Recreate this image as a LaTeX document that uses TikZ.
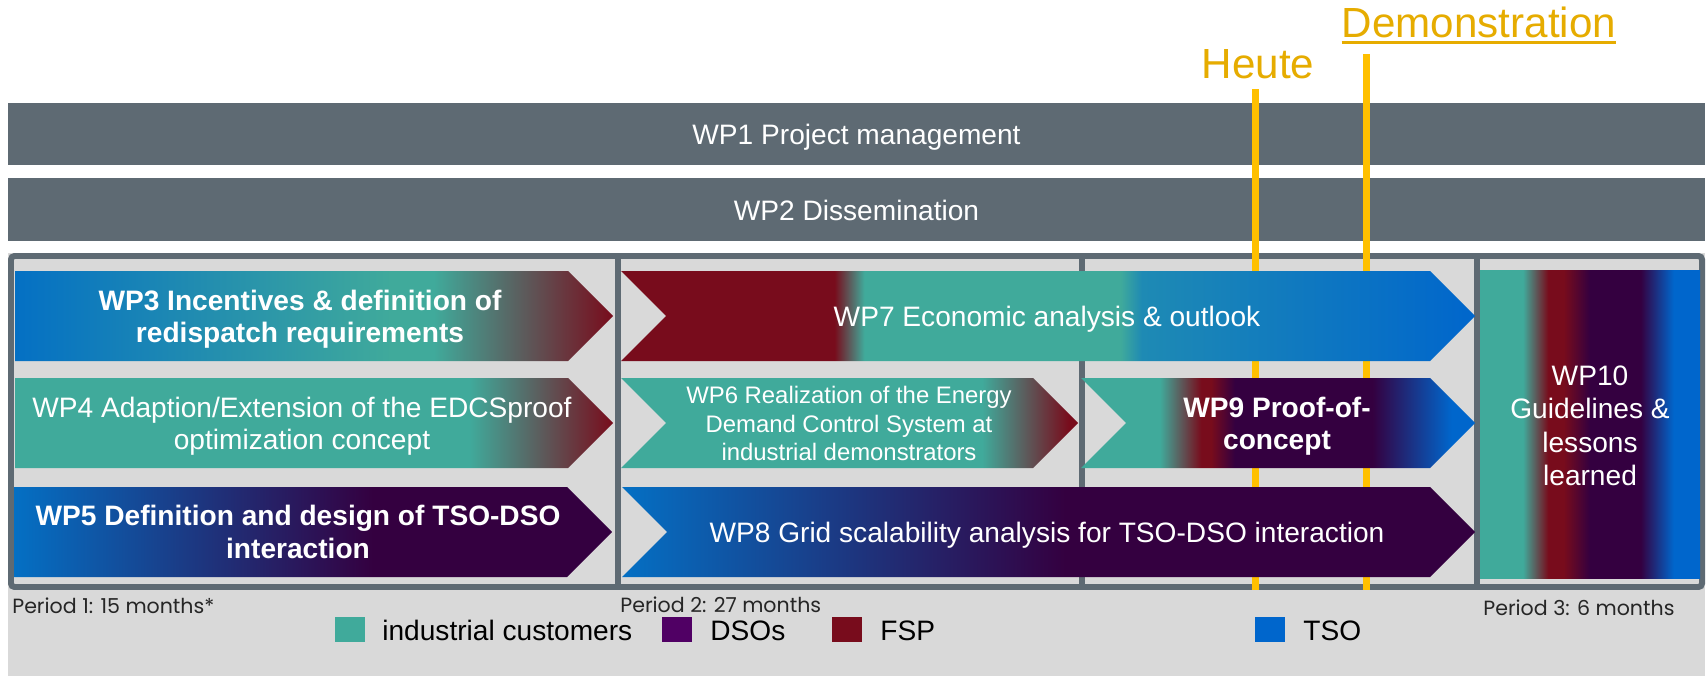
\documentclass[tikz,border=0pt]{standalone}
\usepackage{fontspec}
\setmainfont{Liberation Sans}
\newfontfamily\periodfont{Poppins}
\usepackage{xcolor}
\usepackage{tikz}
\definecolor{barslate}{RGB}{94,106,115}
\definecolor{panelgrey}{RGB}{217,217,217}
\definecolor{markergold}{RGB}{255,192,0}
\definecolor{goldtext}{RGB}{230,172,0}
\definecolor{indteal}{RGB}{64,170,155}
\definecolor{dsopurple}{RGB}{80,0,100}
\definecolor{darkpurple}{RGB}{52,0,64}
\definecolor{fspred}{RGB}{120,12,28}
\definecolor{tsoblue}{RGB}{0,102,204}
\definecolor{wpblue}{RGB}{4,112,196}
\definecolor{wpsteel}{RGB}{30,138,180}
\definecolor{periodgrey}{RGB}{38,38,38}

% colour runs of the work package arrows (25bp = left end, 75bp = right end)
\pgfdeclarehorizontalshading{wpthreeshade}{100bp}{color(0bp)=(wpblue); color(25bp)=(wpblue); color(56.5bp)=(indteal); color(60bp)=(indteal); color(75bp)=(fspred); color(100bp)=(fspred)}
\pgfdeclarehorizontalshading{wpfourshade}{100bp}{color(0bp)=(indteal); color(63bp)=(indteal); color(75bp)=(fspred); color(100bp)=(fspred)}
\pgfdeclarehorizontalshading{wpfiveshade}{100bp}{color(0bp)=(wpblue); color(25bp)=(wpblue); color(55bp)=(darkpurple); color(100bp)=(darkpurple)}
\pgfdeclarehorizontalshading{wpsixshade}{100bp}{color(0bp)=(indteal); color(64.5bp)=(indteal); color(74bp)=(fspred); color(100bp)=(fspred)}
\pgfdeclarehorizontalshading{wpsevenshade}{100bp}{color(0bp)=(fspred); color(37.5bp)=(fspred); color(39.25bp)=(indteal); color(54.25bp)=(indteal); color(55.5bp)=(wpsteel); color(75bp)=(tsoblue); color(100bp)=(tsoblue)}
\pgfdeclarehorizontalshading{wpeightshade}{100bp}{color(0bp)=(wpblue); color(25bp)=(wpblue); color(51bp)=(darkpurple); color(100bp)=(darkpurple)}
\pgfdeclarehorizontalshading{wpnineshade}{100bp}{color(0bp)=(indteal); color(35bp)=(indteal); color(40.25bp)=(fspred); color(41.5bp)=(fspred); color(44.5bp)=(darkpurple); color(62bp)=(darkpurple); color(72bp)=(tsoblue); color(100bp)=(tsoblue)}
\pgfdeclarehorizontalshading{wptenshade}{100bp}{color(0bp)=(indteal); color(34.75bp)=(indteal); color(40.5bp)=(fspred); color(44bp)=(fspred); color(50bp)=(darkpurple); color(61.5bp)=(darkpurple); color(69bp)=(tsoblue); color(100bp)=(tsoblue)}

\begin{document}
\begin{tikzpicture}[x=0.02cm, y=-0.02cm,
    wpbar/.style={rectangle, fill=barslate, text=white, inner sep=0pt, minimum width=33.94cm, font=\fontsize{16}{18.4}\selectfont, text height=12.5pt, text depth=0pt},
    panelframe/.style={draw=barslate, line width=3.4pt},
    daymark/.style={draw=markergold, line width=4pt},
    wptext/.style={text=white, align=center, inner sep=0pt, font=\fontsize{16}{18.4}\selectfont},
    daytext/.style={text=goldtext, inner sep=0pt, font=\fontsize{24}{28}\selectfont},
    legbox/.style={rectangle, inner sep=0pt, minimum width=0.6cm, minimum height=0.5cm},
    legtext/.style={inner sep=0pt, anchor=base west, font=\fontsize{16}{18.4}\selectfont},
    periodtext/.style={inner sep=0pt, anchor=base west, text=periodgrey, font=\periodfont\fontsize{11.7}{14}\selectfont}
]

\fill[white] (0,0) rectangle (1707,676);
\useasboundingbox (0,0) rectangle (1707,676);

% grey panel and the two overall work packages
\fill[panelgrey] (8,253) rectangle (1705,676);
\node[wpbar, minimum height=1.24cm] (wp1) at (856.5,134) {WP1 Project management};
\node[wpbar, minimum height=1.26cm] (wp2) at (856.5,209.5) {WP2 Dissemination};

% periods
\draw[panelframe, rounded corners=2pt] (11,256) rectangle (1702,587);
\draw[panelframe] (618,256) -- (618,587);
\draw[panelframe] (1082,256) -- (1082,587);
\draw[panelframe] (1477,256) -- (1477,587);

% today and demonstration
\node[daytext, anchor=base] (heute) at (1258,78) {Heute};
\node[daytext, anchor=base] (demo) at (1479,37) {Demonstration};
\draw[goldtext, line width=1.7pt] ([yshift=-3.2pt]demo.base west) -- ([yshift=-3.2pt]demo.base east);
\coordinate (heutetop) at (1255,89);
\coordinate (heutebot) at (1255,590);
\coordinate (demotop) at (1366,54);
\coordinate (demobot) at (1366,590);
\draw[daymark] (heutetop) -- (heutebot);
\draw[daymark] (demotop) -- (demobot);

% period 1
\shade[shading=wpthreeshade] (15,271) -- (568,271) -- (613,316) -- (568,361) -- (15,361) -- cycle;
\shade[shading=wpfourshade] (15,378) -- (568,378) -- (613,423) -- (568,468) -- (15,468) -- cycle;
\shade[shading=wpfiveshade] (14,487) -- (567,487) -- (612,532) -- (567,577) -- (14,577) -- cycle;
\node[wptext, font=\bfseries\fontsize{16}{18.4}\selectfont] (wp3) at (300,319) {WP3 Incentives \& definition of\\redispatch requirements};
\node[wptext] (wp4) at (302,426) {WP4 Adaption/Extension of the EDCSproof\\optimization concept};
\node[wptext, font=\bfseries\fontsize{16}{18.4}\selectfont] (wp5) at (298,532) {WP5 Definition and design of TSO-DSO\\interaction};

% period 2
\shade[shading=wpsevenshade] (621,271) -- (1430,271) -- (1475,316) -- (1430,361) -- (621,361) -- (666,316) -- cycle;
\shade[shading=wpsixshade] (621,378) -- (1033,378) -- (1078,423) -- (1033,468) -- (621,468) -- (666,423) -- cycle;
\shade[shading=wpnineshade] (1081,378) -- (1430,378) -- (1475,423) -- (1430,468) -- (1081,468) -- (1126,423) -- cycle;
\shade[shading=wpeightshade] (622,487) -- (1430,487) -- (1475,532) -- (1430,577) -- (622,577) -- (667,532) -- cycle;
\node[wptext, anchor=base] (wp7) at (1047,326) {WP7 Economic analysis \& outlook};
\node[wptext, font=\fontsize{13.6}{16}\selectfont] (wp6) at (849,423.5) {WP6 Realization of the Energy\\Demand Control System at\\industrial demonstrators};
\node[wptext, font=\bfseries\fontsize{16}{18.4}\selectfont] (wp9) at (1277,426) {WP9 Proof-of-\\concept};
\node[wptext, anchor=base] (wp8) at (1047,542) {WP8 Grid scalability analysis for TSO-DSO interaction};

% period 3
\shade[shading=wptenshade] (1480,270) rectangle (1700,578);
\node[wptext, font=\fontsize{16}{19}\selectfont] (wp10) at (1590,426) {WP10\\Guidelines \&\\lessons\\learned};

% period labels
\node[periodtext] (per1) at (12,613) {Period 1: 15 months*};
\node[periodtext] (per2) at (620,612) {Period 2: 27 months};
\node[periodtext] (per3) at (1483,615) {Period 3: 6 months};

% legend
\node[legbox, fill=indteal] (legind) at (350,629.5) {};
\node[legtext] (legindtext) at (382,640) {industrial customers};
\node[legbox, fill=dsopurple] (legdso) at (677,629.5) {};
\node[legtext] (legdsotext) at (710,640) {DSOs};
\node[legbox, fill=fspred] (legfsp) at (847,629.5) {};
\node[legtext] (legfsptext) at (880,640) {FSP};
\node[legbox, fill=tsoblue] (legtso) at (1270,629.5) {};
\node[legtext] (legtsotext) at (1303,640) {TSO};

\end{tikzpicture}
\end{document}
